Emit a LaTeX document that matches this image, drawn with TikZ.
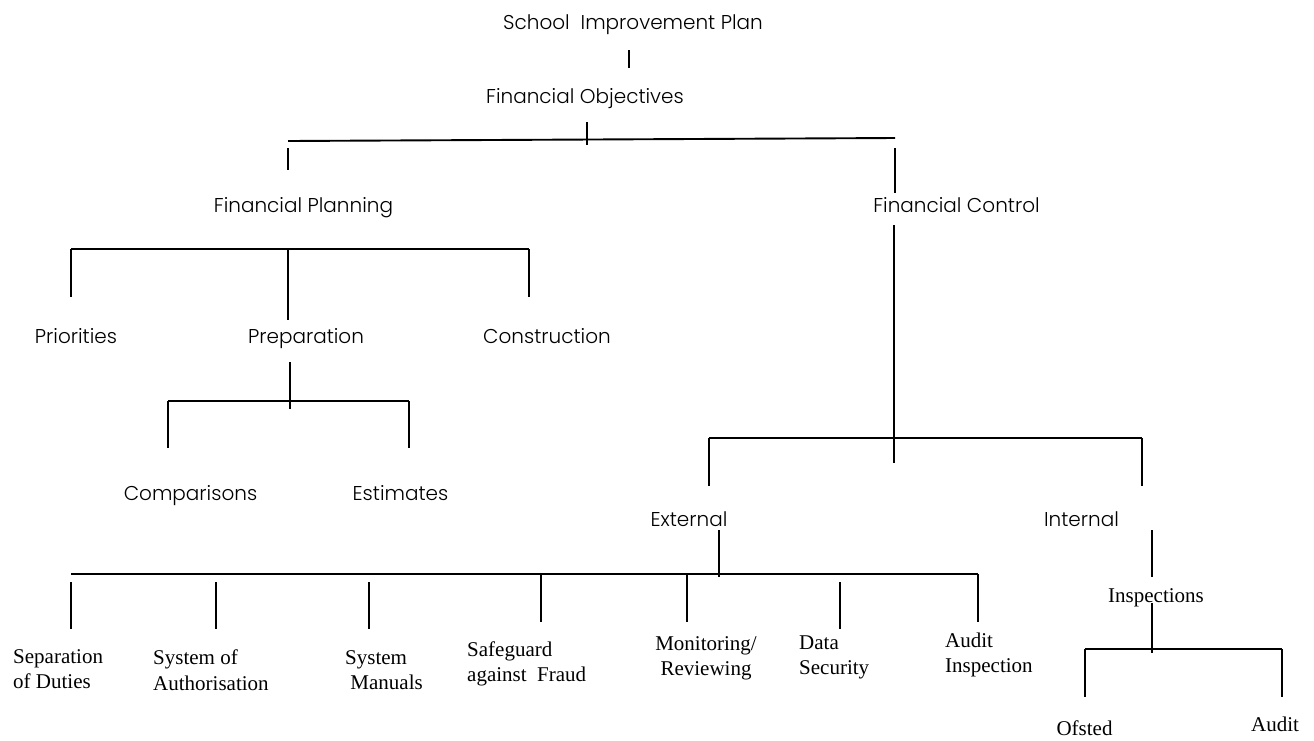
\documentclass[tikz,border=0pt]{standalone}
\usepackage{fontspec}
\setmainfont{Liberation Serif}
\newfontfamily\gothic{Poppins Light}
\usepackage{tikz}
\tikzstyle{topic} = [inner sep=0pt, anchor=base, font=\gothic\fontsize{20}{24}\selectfont]
\tikzstyle{leaf} = [inner sep=0pt, anchor=north west, align=left, font=\fontsize{21}{25}\selectfont]
\tikzstyle{leafline} = [inner sep=0pt, anchor=base, font=\fontsize{21}{25}\selectfont]
\tikzstyle{link} = [line width=1.9pt]

\begin{document}
\begin{tikzpicture}[x=1pt, y=-1pt]
    \useasboundingbox (0,0) rectangle (1314,740);
    \node (sip) [topic] at (633,29) {School\ \ Improvement Plan};
    \node (fobj) [topic] at (585,103) {Financial Objectives};
    \node (fplan) [topic] at (303.5,212) {Financial Planning};
    \node (fcon) [topic] at (956.5,212) {Financial Control};
    \node (prio) [topic] at (76,343) {Priorities};
    \node (prep) [topic] at (306,343) {Preparation};
    \node (cons) [topic] at (547,343) {Construction};
    \node (comp) [topic] at (190.5,500) {Comparisons};
    \node (esti) [topic] at (400.5,500) {Estimates};
    \node (ext) [topic] at (689,526) {External};
    \node (int) [topic] at (1081.5,526) {Internal};
    \node (sep) [leaf] at (13,649) {Separation\\of Duties};
    \node (auth) [leaf] at (153,650) {System of\\Authorisation};
    \node (manu) [leaf] at (345,650) {System\\~Manuals};
    \node (fraud) [leaf] at (467,641) {Safeguard\\against\ \ Fraud};
    \node (moni) [leaf, anchor=north, align=center] at (706,636) {Monitoring/\\Reviewing};
    \node (data) [leaf] at (799,636) {Data\\Security};
    \node (audi) [leaf] at (945,633) {Audit\\Inspection};
    \node (insp) [leafline] at (1156,602) {Inspections};
    \node (ofst) [leafline] at (1084.5,735) {Ofsted};
    \node (audt) [leafline] at (1275,731) {Audit};

    % bar junctions
    \coordinate (sipstem) at (629,50);
    \coordinate (objL) at (288,141);
    \coordinate (objR) at (895,138);
    \coordinate (objtick) at (587,145);
    \coordinate (planL) at (71,249);
    \coordinate (planM) at (288,249);
    \coordinate (planR) at (529,249);
    \coordinate (prepL) at (168,401);
    \coordinate (prepM) at (290,401);
    \coordinate (prepR) at (409,401);
    \coordinate (conL) at (709,438);
    \coordinate (conM) at (894,438);
    \coordinate (conR) at (1142,438);
    \coordinate (extL) at (71,574);
    \coordinate (extB) at (216,574);
    \coordinate (extC) at (369,574);
    \coordinate (extD) at (541,574);
    \coordinate (extE) at (687,574);
    \coordinate (extM) at (719,574);
    \coordinate (extF) at (840,574);
    \coordinate (extR) at (978,574);
    \coordinate (inspL) at (1085,649);
    \coordinate (inspM) at (1152,649);
    \coordinate (inspR) at (1282,649);

    \draw [link, shorten >=35pt] (sipstem) -- (sipstem |- fobj.base);
    \draw [link] (objL) -- (objR);
    \draw [link, shorten >=19pt] (objtick) -- (objtick |- fobj.base);
    \draw [link, shorten <=7pt, shorten >=42pt] (objL) -- (objL |- fplan.base);
    \draw [link, shorten <=10pt, shorten >=19pt] (objR) -- (objR |- fcon.base);

    \draw [link] (planL) -- (planR);
    \draw [link, shorten >=46pt] (planL) -- (planL |- prio.base);
    \draw [link, shorten >=23pt] (planM) -- (planM |- prep.base);
    \draw [link, shorten >=46pt] (planR) -- (planR |- cons.base);
    \draw [link, shorten <=19pt, shorten >=-8pt] (prep.base -| prepM) -- (prepM);
    \draw [link] (prepL) -- (prepR);
    \draw [link, shorten >=52pt] (prepL) -- (prepL |- comp.base);
    \draw [link, shorten >=52pt] (prepR) -- (prepR |- esti.base);

    \draw [link, shorten <=13pt, shorten >=63pt] (fcon.base -| conM) -- (conM |- ext.base);
    \draw [link] (conL) -- (conR);
    \draw [link, shorten >=40pt] (conL) -- (conL |- ext.base);
    \draw [link, shorten >=40pt] (conR) -- (conR |- int.base);

    \draw [link, shorten <=4pt, shorten >=-3pt] (ext.base -| extM) -- (extM);
    \draw [link] (extL) -- (extR);
    \draw [link, shorten <=8pt, shorten >=20pt] (extL) -- (extL |- sep.north);
    \draw [link, shorten <=8pt, shorten >=21pt] (extB) -- (extB |- auth.north);
    \draw [link, shorten <=8pt, shorten >=21pt] (extC) -- (extC |- manu.north);
    \draw [link, shorten >=19pt] (extD) -- (extD |- fraud.north);
    \draw [link, shorten >=14pt] (extE) -- (extE |- moni.north);
    \draw [link, shorten <=8pt, shorten >=7pt] (extF) -- (extF |- data.north);
    \draw [link, shorten >=11pt] (extR) -- (extR |- audi.north);

    \draw [link, shorten <=4pt, shorten >=25pt] (int.base -| inspM) -- (insp.base -| inspM);
    \draw [link, shorten <=1pt, shorten >=-4pt] (insp.base -| inspM) -- (inspM);
    \draw [link] (inspL) -- (inspR);
    \draw [link, shorten >=38pt] (inspL) -- (inspL |- ofst.base);
    \draw [link, shorten >=34pt] (inspR) -- (inspR |- audt.base);
\end{tikzpicture}
\end{document}
